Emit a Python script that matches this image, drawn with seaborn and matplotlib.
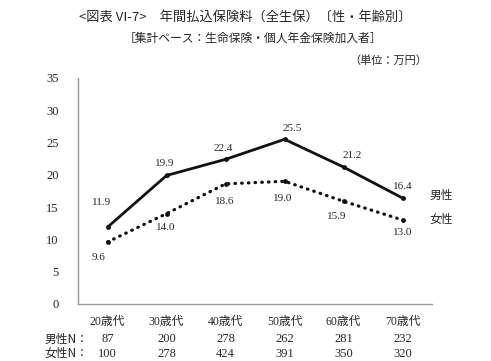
import pandas as pd
import seaborn as sns
import matplotlib.pyplot as plt

# data
ages = ['20歳代', '30歳代', '40歳代', '50歳代', '60歳代', '70歳代']
male = [11.9, 19.9, 22.4, 25.5, 21.2, 16.4]
female = [9.6, 14.0, 18.6, 19.0, 15.9, 13.0]
male_n = [87, 200, 278, 262, 281, 232]
female_n = [100, 278, 424, 391, 350, 320]

sns.set_style('white')
plt.rcParams['font.family'] = ['Liberation Serif', 'Noto Sans CJK JP', 'DejaVu Sans']

df = pd.DataFrame({'age': ages, 'male': male, 'female': female})

fig = plt.figure(figsize=(4.91, 3.61), dpi=100)
ax = fig.add_axes([0.159, 0.158, 0.721, 0.626])

sns.lineplot(data=df, x='age', y='male', ax=ax, color='#111111', lw=2,
             marker='o', markersize=3.5, markeredgewidth=0, sort=False)
sns.lineplot(data=df, x='age', y='female', ax=ax, color='#111111', lw=2.3,
             dashes=False, sort=False)
ax.lines[-1].set_linestyle((0, (0.2, 1.9)))
ax.lines[-1].set_dash_capstyle('round')
ax.plot(range(len(ages)), female, 'o', color='#111111', ms=3.5, mew=0)

# value labels (pixel offsets)
m_off = [(-6, 25), (-2, 12), (-2, 11), (8, 11), (9, 12), (0, 12)]
f_off = [(-9, -16), (-1, -14), (-1, -18), (-2, -17), (-7, -15), (0, -12)]
for i, v in enumerate(male):
    ax.annotate(f'{v:.1f}', (i, v), xytext=m_off[i], textcoords='offset pixels',
                ha='center', va='center', fontsize=8)
for i, v in enumerate(female):
    ax.annotate(f'{v:.1f}', (i, v), xytext=f_off[i], textcoords='offset pixels',
                ha='center', va='center', fontsize=8)

ax.annotate('男性', (5, male[-1]), xytext=(27, 3), textcoords='offset pixels',
            ha='left', va='center', fontsize=8.5, family='Noto Sans CJK JP')
ax.annotate('女性', (5, female[-1]), xytext=(27, 1), textcoords='offset pixels',
            ha='left', va='center', fontsize=8.5, family='Noto Sans CJK JP')

ax.set_xlim(-0.5, 5.5)
ax.set_ylim(0, 35)
ax.set_yticks(range(0, 36, 5))
ax.set_xticks(range(len(ages)))
ax.set_xticklabels([])
ax.tick_params(axis='y', labelsize=9, length=0, pad=14)
ax.tick_params(axis='x', length=0)
ax.set_xlabel('')
ax.set_ylabel('')
for s in ['top', 'right']:
    ax.spines[s].set_visible(False)
for s in ['left', 'bottom']:
    ax.spines[s].set_color('#999999')
    ax.spines[s].set_linewidth(1)

# category labels and N table under the axis
tr = ax.get_xaxis_transform()
rows = [(-0.080, ages), (-0.155, male_n), (-0.221, female_n)]
for y, vals in rows:
    for i, v in enumerate(vals):
        ax.text(i, y, str(v), transform=tr, ha='center', va='center',
                fontsize=9 if y < -0.1 else 8.5)
ax.text(-0.33, -0.155, '男性N：', transform=tr, ha='right', va='center',
        fontsize=8.5, family='Noto Sans CJK JP')
ax.text(-0.33, -0.221, '女性N：', transform=tr, ha='right', va='center',
        fontsize=8.5, family='Noto Sans CJK JP')

fig.text(0.5, 1 - 17 / 361, '<図表 VI-7>　年間払込保険料（全生保）〔性・年齢別〕',
         fontsize=9.5, ha='center', va='center', family='Noto Sans CJK JP')
fig.text(0.515, 1 - 38 / 361, '［集計ベース：生命保険・個人年金保険加入者］',
         fontsize=8.5, ha='center', va='center', family='Noto Sans CJK JP')
fig.text(427 / 491, 1 - 61 / 361, '（単位：万円）', fontsize=8, ha='right',
         va='center', family='Noto Sans CJK JP')

fig.savefig('out.png', dpi=100)
